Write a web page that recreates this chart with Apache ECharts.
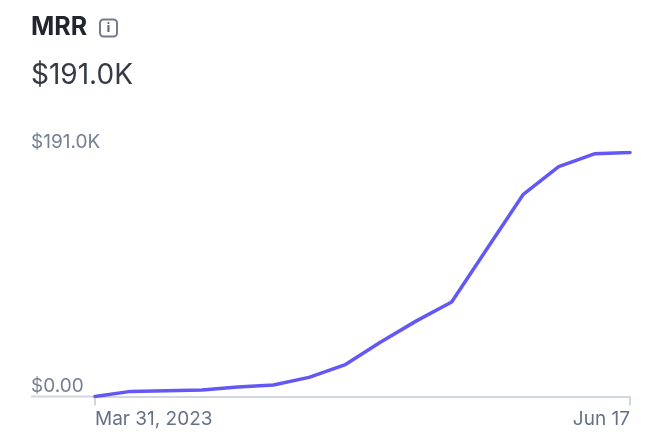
<!DOCTYPE html>
<html><head><meta charset="utf-8">
<style>html,body{margin:0;padding:0;background:#fff}#c{width:650px;height:439px}</style>
<script src="https://cdn.jsdelivr.net/npm/echarts@6/dist/echarts.min.js"></script>
</head><body><div id="c"></div>
<script>
const categories = ["Mar 31, 2023","","","","","","","","","","","","","","","Jun 17"];
const mrrValues = [0,4,4.5,5,7.5,9,15,24.7,42.5,59,74,116,158,180,190,191];
const yTicks = {min:0,max:191};
const chart = echarts.init(document.getElementById('c'),null,{renderer:'canvas'});
const font = 'Inter, "Liberation Sans", sans-serif';
const last = categories.length-1;
const ends = i => i===0||i===last;
chart.setOption({
  animation:false,
  backgroundColor:'#fff',
  title:[
    {text:'MRR',left:31,top:15,padding:0,textStyle:{fontFamily:font,fontSize:25,fontWeight:700,color:'#21252e'}},
    {text:'$191.0K',left:31,top:62,padding:0,textStyle:{fontFamily:font,fontSize:28,fontWeight:400,color:'#353a45'}}
  ],
  grid:{left:95,right:20,top:152.5,bottom:42.5,containLabel:false},
  xAxis:{type:'category',data:categories,boundaryGap:false,
    axisLine:{show:true,lineStyle:{color:'#d2d6de',width:2}},
    axisTick:{show:true,length:9,interval:(i)=>ends(i),lineStyle:{color:'#d2d6de',width:2}},
    axisLabel:{interval:(i)=>ends(i),alignMinLabel:'left',alignMaxLabel:'right',margin:13,
      fontFamily:font,fontSize:19,color:'#667085'}},
  yAxis:{type:'value',min:yTicks.min,max:yTicks.max,interval:yTicks.max,
    axisLine:{show:false},axisTick:{show:false},splitLine:{show:false},
    axisLabel:{align:'left',verticalAlign:'bottom',margin:64,lineHeight:20,fontFamily:font,fontSize:19,color:'#768093',
      formatter:v=>v===0?'$0.00':'$'+v.toFixed(1)+'K'}},
  series:[{type:'line',data:mrrValues,symbol:'none',smooth:false,lineStyle:{color:'#6358f5',width:3.5,join:'round',cap:'round'}}],
  graphic:[
    {type:'line',silent:true,shape:{x1:31,y1:396.5,x2:95,y2:396.5},style:{stroke:'#d2d6de',lineWidth:2}},
    {type:'rect',silent:true,shape:{x:100,y:19.5,width:17,height:17,r:3.5},style:{fill:'#fff',stroke:'#737b8c',lineWidth:2}},
    {type:'text',silent:true,style:{x:108.5,y:28,text:'i',align:'center',verticalAlign:'middle',fontFamily:font,fontSize:12,fontWeight:800,fill:'#5f6778'}}
  ]
});
</script></body></html>
